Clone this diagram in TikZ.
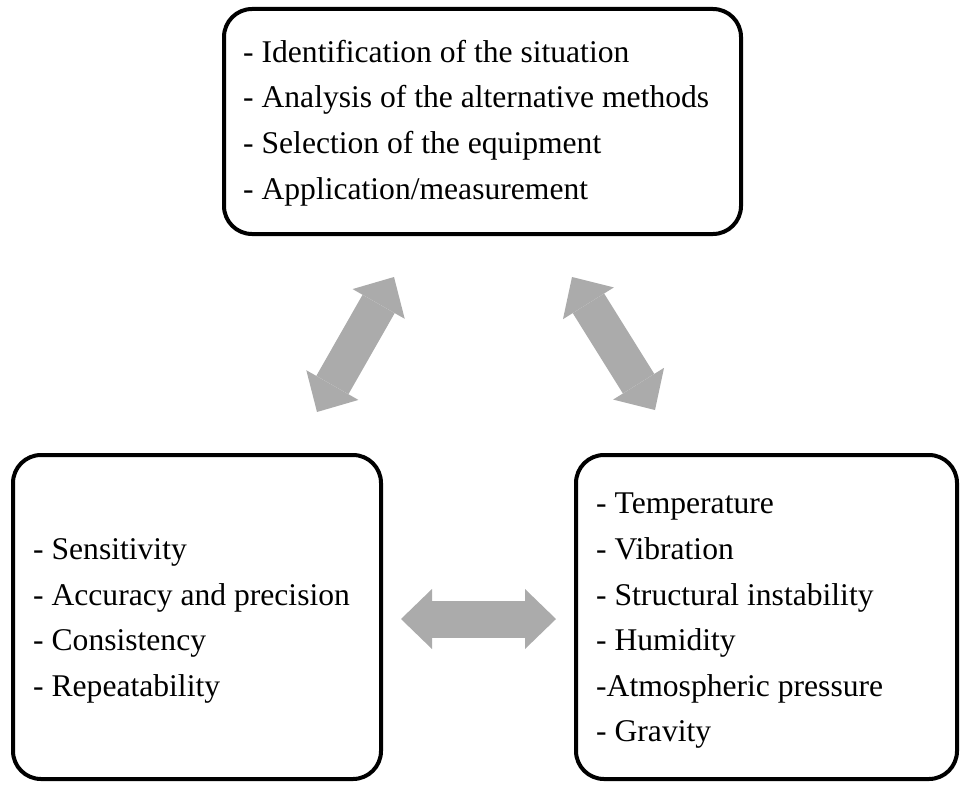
\documentclass[tikz,border=0pt]{standalone}
\usepackage{fontspec}
\setmainfont{Liberation Serif}
\usetikzlibrary{arrows.meta}
\definecolor{arrowgray}{RGB}{171,171,171}
\begin{document}
\begin{tikzpicture}[x=1pt,y=-1pt,
  box/.style={draw=black, line width=4pt, rounded corners=28pt, fill=white, inner sep=0pt},
  txt/.style={align=left, inner sep=0pt, anchor=west, font=\fontsize{31.6pt}{45.6pt}\selectfont},
  fatarrow/.style={draw=arrowgray, line width=37pt,
    {Triangle[length=31pt,width=60pt,line width=0pt]}-{Triangle[length=31pt,width=60pt,line width=0pt]}}]
\useasboundingbox (0,0) rectangle (960,784);
% boxes
\node[box, minimum width=517pt, minimum height=225pt] (top) at (482.5,121.5) {};
\node[box, minimum width=368pt, minimum height=324pt] (left) at (197,617) {};
\node[box, minimum width=381pt, minimum height=324pt] (right) at (766.5,617) {};
% texts
\node[txt] (toptxt) at (243,123) {- Identification of the situation\\- Analysis of the alternative methods\\- Selection of the equipment\\- Application/measurement};
\node[txt] (lefttxt) at (33,621) {- Sensitivity\\- Accuracy and precision\\- Consistency\\- Repeatability};
\node[txt] (righttxt) at (596,621) {- Temperature\\- Vibration\\- Structural instability\\- Humidity\\-Atmospheric pressure\\- Gravity};
% arrow ends
\coordinate (la1) at (317,412);
\coordinate (la2) at (394,277);
\coordinate (ra1) at (572,277);
\coordinate (ra2) at (655,410);
\coordinate (ha1) at (401,619);
\coordinate (ha2) at (556,619);
\draw[fatarrow] (la1) -- (la2);
\draw[fatarrow] (ra1) -- (ra2);
\draw[fatarrow] (ha1) -- (ha2);
\end{tikzpicture}
\end{document}
